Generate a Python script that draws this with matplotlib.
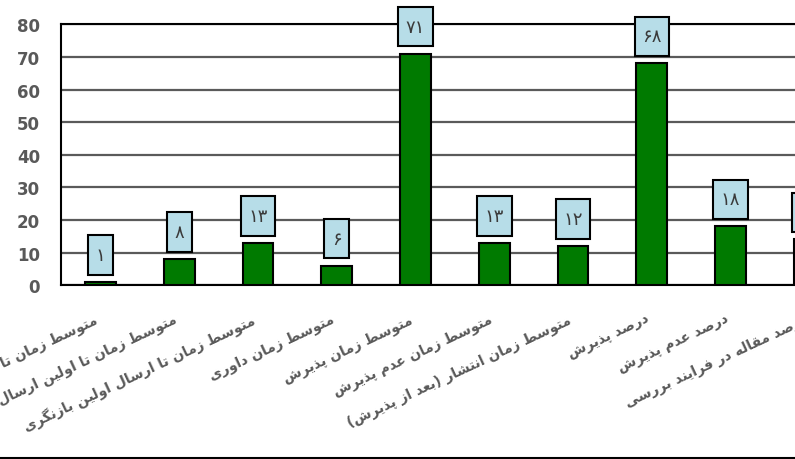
import matplotlib
matplotlib.use("Agg")
import matplotlib.pyplot as plt
from matplotlib.path import Path
from matplotlib.lines import Line2D

# Data
categories = [
    "متوسط زمان تا اولین پاسخ",
    "متوسط زمان تا اولین ارسال برای داوری",
    "متوسط زمان تا ارسال اولین بازنگری",
    "متوسط زمان داوری",
    "متوسط زمان پذیرش",
    "متوسط زمان عدم پذیرش",
    "متوسط زمان انتشار (بعد از پذیرش)",
    "درصد پذیرش",
    "درصد عدم پذیرش",
    "درصد مقاله در فرایند بررسی",
]
values = [1, 8, 13, 6, 71, 13, 12, 68, 18, 14]

# Arabic presentation forms: isolated, final, initial, medial
FORMS = {
    'ا': ('\uFE8D', '\uFE8E', None, None),
    'آ': ('\uFE81', '\uFE82', None, None),
    'ب': ('\uFE8F', '\uFE90', '\uFE91', '\uFE92'),
    'پ': ('\uFB56', '\uFB57', '\uFB58', '\uFB59'),
    'ت': ('\uFE95', '\uFE96', '\uFE97', '\uFE98'),
    'ث': ('\uFE99', '\uFE9A', '\uFE9B', '\uFE9C'),
    'ج': ('\uFE9D', '\uFE9E', '\uFE9F', '\uFEA0'),
    'چ': ('\uFB7A', '\uFB7B', '\uFB7C', '\uFB7D'),
    'ح': ('\uFEA1', '\uFEA2', '\uFEA3', '\uFEA4'),
    'خ': ('\uFEA5', '\uFEA6', '\uFEA7', '\uFEA8'),
    'د': ('\uFEA9', '\uFEAA', None, None),
    'ذ': ('\uFEAB', '\uFEAC', None, None),
    'ر': ('\uFEAD', '\uFEAE', None, None),
    'ز': ('\uFEAF', '\uFEB0', None, None),
    'ژ': ('\uFB8A', '\uFB8B', None, None),
    'س': ('\uFEB1', '\uFEB2', '\uFEB3', '\uFEB4'),
    'ش': ('\uFEB5', '\uFEB6', '\uFEB7', '\uFEB8'),
    'ص': ('\uFEB9', '\uFEBA', '\uFEBB', '\uFEBC'),
    'ض': ('\uFEBD', '\uFEBE', '\uFEBF', '\uFEC0'),
    'ط': ('\uFEC1', '\uFEC2', '\uFEC3', '\uFEC4'),
    'ظ': ('\uFEC5', '\uFEC6', '\uFEC7', '\uFEC8'),
    'ع': ('\uFEC9', '\uFECA', '\uFECB', '\uFECC'),
    'غ': ('\uFECD', '\uFECE', '\uFECF', '\uFED0'),
    'ف': ('\uFED1', '\uFED2', '\uFED3', '\uFED4'),
    'ق': ('\uFED5', '\uFED6', '\uFED7', '\uFED8'),
    'ک': ('\uFB8E', '\uFB8F', '\uFB90', '\uFB91'),
    'گ': ('\uFB92', '\uFB93', '\uFB94', '\uFB95'),
    'ل': ('\uFEDD', '\uFEDE', '\uFEDF', '\uFEE0'),
    'م': ('\uFEE1', '\uFEE2', '\uFEE3', '\uFEE4'),
    'ن': ('\uFEE5', '\uFEE6', '\uFEE7', '\uFEE8'),
    'ه': ('\uFEE9', '\uFEEA', '\uFEEB', '\uFEEC'),
    'و': ('\uFEED', '\uFEEE', None, None),
    'ی': ('\uFBFC', '\uFBFD', '\uFBFE', '\uFBFF'),
}
MIRROR = {'(': ')', ')': '('}


def shape_rtl(text):
    """Join Persian letters and reverse for left-to-right drawing."""
    out = []
    for i, c in enumerate(text):
        if c not in FORMS:
            out.append(MIRROR.get(c, c))
            continue
        iso, fin, ini, med = FORMS[c]
        prev = text[i - 1] if i > 0 else None
        nxt = text[i + 1] if i + 1 < len(text) else None
        jp = prev in FORMS and FORMS[prev][2] is not None
        jn = ini is not None and nxt in FORMS
        if jp and jn:
            out.append(med)
        elif jp:
            out.append(fin)
        elif jn:
            out.append(ini)
        else:
            out.append(iso)
    return ''.join(reversed(out))


fa_digits = str.maketrans("0123456789", "۰۱۲۳۴۵۶۷۸۹")


def tall_box(x0, y0, width, height, mutation_size):
    px = 0.42 * mutation_size
    py = 0.6 * mutation_size
    x0, y0 = x0 - px, y0 - py
    x1, y1 = x0 + width + 2 * px, y0 + height + 2 * py
    return Path([(x0, y0), (x1, y0), (x1, y1), (x0, y1), (x0, y0)], closed=True)


plt.rcParams['font.family'] = ['DejaVu Sans']

fig = plt.figure(figsize=(7.95, 4.6), dpi=100)
ax = fig.add_axes([0.0767, 0.378, 0.991, 0.567])

x = range(len(values))
ax.bar(x, values, width=0.39, color='#007a00', edgecolor='black', linewidth=1.5, zorder=3)

for i, v in enumerate(values):
    ax.annotate(str(v).translate(fa_digits), (i, v), xytext=(0, 27), textcoords='offset pixels',
                ha='center', va='center', fontsize=13, color='#3a3a3a', zorder=4,
                bbox=dict(boxstyle=tall_box, facecolor='#b7dde8', edgecolor='black', linewidth=1.5))

ax.set_xlim(-0.5, len(values) - 0.5)
ax.set_ylim(0, 80)
ax.set_yticks(range(0, 81, 10))
ax.yaxis.grid(True, color='#5a5a5a', linewidth=1.6)
ax.set_axisbelow(True)
for s in ax.spines.values():
    s.set_linewidth(1.5)
    s.set_color('black')

ax.tick_params(axis='y', length=0, pad=15, labelsize=12, labelcolor='#595959')
for lab in ax.get_yticklabels():
    lab.set_fontweight('bold')

ax.set_xticks(list(x))
ax.set_xticklabels([shape_rtl(c) for c in categories], rotation=25, ha='right', va='top',
                   fontsize=10, fontweight='bold', color='#595959')
ax.tick_params(axis='x', length=0, pad=19)

fig.add_artist(Line2D([0, 1], [0.002, 0.002], transform=fig.transFigure, color='black', linewidth=1.5))

fig.savefig("out.png", dpi=100)
